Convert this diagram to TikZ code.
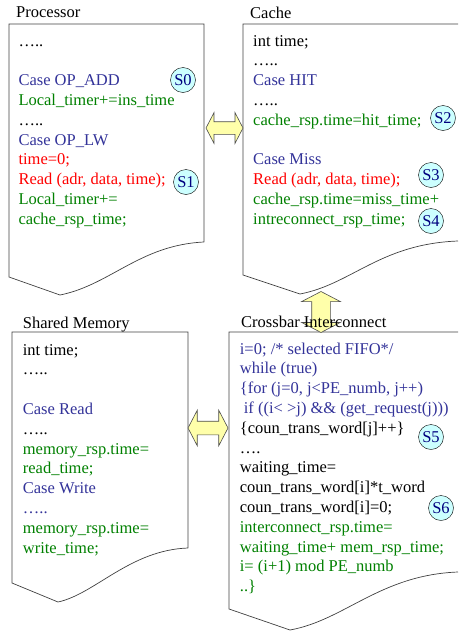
\documentclass[tikz,border=0pt]{standalone}
\usepackage{fontspec}
\setmainfont{Liberation Serif}
\usetikzlibrary{shapes.arrows}
\definecolor{casecol}{RGB}{51,51,153}
\definecolor{timecol}{RGB}{0,128,0}
\definecolor{readcol}{RGB}{255,0,0}
\definecolor{arrowfill}{RGB}{255,255,170}
\definecolor{statefill}{RGB}{204,255,255}
\definecolor{statetext}{RGB}{0,0,128}
\newcommand{\casetxt}[1]{\textcolor{casecol}{#1}}
\newcommand{\timetxt}[1]{\textcolor{timecol}{#1}}
\newcommand{\readtxt}[1]{\textcolor{readcol}{#1}}

\begin{document}
\begin{tikzpicture}[x=1pt,y=-1pt,
		box/.style={draw=black!75, line width=0.7pt},
		code/.style={anchor=base west, align=left, inner sep=0pt, font=\fontsize{16.5}{19.8}\selectfont},
		title/.style={anchor=base west, inner sep=0pt, font=\fontsize{16.5}{19.8}\selectfont},
		state/.style={draw, circle, fill=statefill, text=statetext, inner sep=0pt, minimum size=25pt, font=\fontsize{16.5}{19.8}\selectfont},
		link/.style={double arrow, draw=black!70, fill=arrowfill, line width=0.6pt, double arrow tip angle=125}]
		\useasboundingbox (0,0) rectangle (458,632);
		
		% outlines
		\draw[box] (204,242) -- (204,24) -- (9,24) -- (9,277) -- (60,295) .. controls (110,285) and (140,245) .. (204,242);
		\draw[box] (458,24) -- (243,24) -- (243,275) -- (300,294) .. controls (352,284) and (380,244) .. (458,241);
		\draw[box] (188,548) -- (188,332) -- (12,332) -- (12,583) -- (58,602) .. controls (95,594) and (130,550) .. (188,548);
		\draw[box] (458,332) -- (229,332) -- (229,609) -- (290,630) .. controls (345,620) and (380,575) .. (458,572);
		
		% block arrows
		\node[link, inner xsep=0pt, inner ysep=6pt, double arrow head extend=9pt, minimum height=37pt] (pclink) at (224.5,128) {};
		\node[link, inner xsep=9pt, inner ysep=0pt, double arrow head extend=10pt, minimum height=41pt, shape border rotate=90] (cxlink) at (321,312) {};
		\node[link, inner xsep=0pt, inner ysep=6.5pt, double arrow head extend=11pt, minimum height=40pt] (mxlink) at (208,428) {};
		
		\node[title] (proctitle) at (16,17.5) {Processor};
		\node[title] (cachetitle) at (250,18.5) {Cache};
		\node[title] (memtitle) at (22.7,328) {Shared Memory};
		\node[title] (xbartitle) at (241,327.7) {Crossbar Interconnect};
		
		% code blocks, placed by the baseline of their last line
		\node[code] (proccode) at (18.3,224.2) {…..\\ \\
			\casetxt{Case OP\_ADD}\\
			\timetxt{Local\_timer+=ins\_time}\\
			…..\\
			\casetxt{Case OP\_LW}\\
			\readtxt{time=0;}\\
			\readtxt{Read (adr, data, time);}\\
			\timetxt{Local\_timer+=}\\
			\timetxt{cache\_rsp\_time;}};
		\node[code] (cachecode) at (253,224.2) {int time;\\
			…..\\
			\casetxt{Case HIT}\\
			…..\\
			\timetxt{cache\_rsp.time=hit\_time;}\\ \\
			\casetxt{Case Miss}\\
			\readtxt{Read (adr, data, time);}\\
			\timetxt{cache\_rsp.time=miss\_time+}\\
			\timetxt{intreconnect\_rsp\_time;}};
		\node[code] (memcode) at (22.7,553) {int time;\\
			…..\\ \\
			\casetxt{Case Read}\\
			…..\\
			\timetxt{memory\_rsp.time=}\\
			\timetxt{read\_time;}\\
			\casetxt{Case Write}\\
			\casetxt{…..}\\
			\timetxt{memory\_rsp.time=}\\
			\timetxt{write\_time;}};
		\node[code] (xbarcode) at (239.7,591.6) {\casetxt{i=0; /* selected FIFO*/}\\
			\casetxt{while (true)}\\
			\casetxt{\{for (j=0, j<PE\_numb, j++)}\\
			\casetxt{\hspace{4pt}if ((i< >j) \&\& (get\_request(j)))}\\
			\{coun\_trans\_word[j]++\}\\
			….\\
			waiting\_time=\\
			coun\_trans\_word[i]*t\_word\\
			coun\_trans\_word[i]=0;\\
			\timetxt{interconnect\_rsp.time=}\\
			\timetxt{waiting\_time+ mem\_rsp\_time;}\\
			\timetxt{i= (i+1) mod PE\_numb}\\
			\timetxt{..\}}};
		
		\node[state] (s0) at (183,80) {S0};
		\node[state] (s1) at (186,182) {S1};
		\node[state] (s2) at (443,118) {S2};
		\node[state] (s3) at (431,175) {S3};
		\node[state] (s4) at (431,221) {S4};
		\node[state] (s5) at (431,437) {S5};
		\node[state] (s6) at (441,508) {S6};
		
	\end{tikzpicture}
\end{document}
